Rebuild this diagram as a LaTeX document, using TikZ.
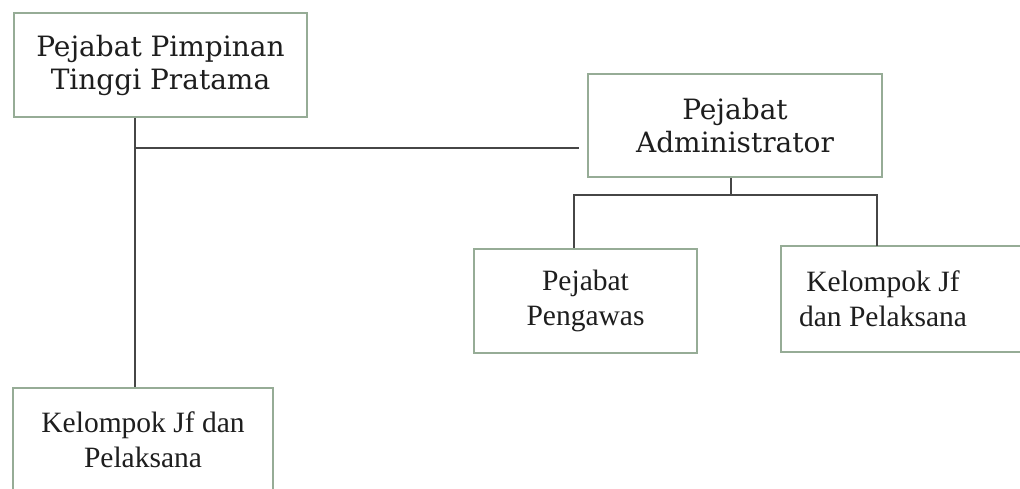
\documentclass[tikz,border=0pt]{standalone}
\usepackage{fontspec}
\setmainfont{Liberation Serif}
\newfontfamily\topfont{DejaVu Serif}
\definecolor{boxgreen}{RGB}{150,172,150}
\definecolor{linegray}{RGB}{70,70,70}
\definecolor{txt}{RGB}{30,30,30}
\begin{document}
\begin{tikzpicture}[x=1pt,y=-1pt,
  boxline/.style={draw=boxgreen,line width=1.6pt},
  box/.style={boxline,fill=white,align=center,text=txt,inner sep=0pt},
  topbox/.style={box,font=\topfont\fontsize{28}{33}\selectfont},
  lowbox/.style={box,font=\fontsize{29.5}{35}\selectfont},
  conn/.style={draw=linegray,line width=1.4pt}]
\useasboundingbox (0,0) rectangle (1020,488);
\clip (0,0) rectangle (1020,488);
\fill[white] (0,0) rectangle (1020,488);
% nodes
\node[topbox,minimum width=293pt,minimum height=104pt] (ppt) at (160.5,65) {Pejabat Pimpinan\\Tinggi Pratama};
\node[topbox,minimum width=294pt,minimum height=103pt] (adm) at (735,125.5) {Pejabat\\Administrator};
\node[lowbox,minimum width=223pt,minimum height=104pt] (peng) at (585.5,301) {Pejabat\\Pengawas};
\node[lowbox,draw=none,fill=none,minimum width=202pt,minimum height=104pt] (kr) at (883,299) {Kelompok Jf\\dan Pelaksana};
\draw[boxline] (kr.north west) rectangle ([xshift=60pt]kr.south east);
\node[lowbox,minimum width=260pt,minimum height=104pt] (kl) at (143,440) {Kelompok Jf dan\\Pelaksana};
% connectors
\coordinate (trunk) at (135,0);
\coordinate (hy) at (0,148);
\draw[conn] (trunk |- ppt.south) -- (trunk |- kl.north);
\draw[conn,shorten >=8pt] (trunk |- hy) -- (adm.west |- hy);
\coordinate (bl) at (574,195);
\coordinate (bm) at (731,195);
\coordinate (bR) at (877,195);
\draw[conn] (bm |- adm.south) -- (bm);
\draw[conn] (bl |- peng.north) -- (bl) -- (bR) -- (bR |- kr.north);
\end{tikzpicture}
\end{document}
